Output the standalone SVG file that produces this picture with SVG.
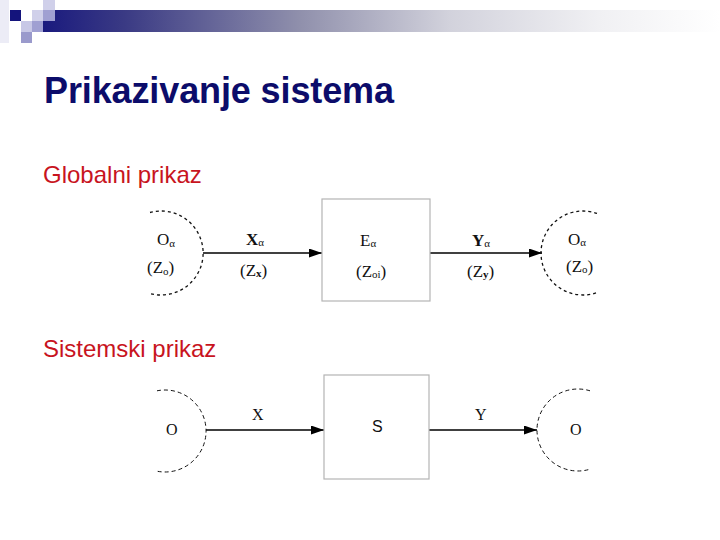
<svg xmlns="http://www.w3.org/2000/svg" width="720" height="540" viewBox="0 0 720 540">
<defs>
<linearGradient id="bar" x1="0" y1="0" x2="1" y2="0">
<stop offset="0" stop-color="#1a1a7e"/>
<stop offset="0.12" stop-color="#3a3a84"/>
<stop offset="0.38" stop-color="#9090ac"/>
<stop offset="0.6" stop-color="#d2d2dc"/>
<stop offset="0.82" stop-color="#f0f0f3"/>
<stop offset="1" stop-color="#ffffff"/>
</linearGradient>
<marker id="arr" markerUnits="userSpaceOnUse" markerWidth="13" markerHeight="9" refX="13" refY="4.5" orient="auto">
<path d="M0,0 L13,4.5 L0,9 z" fill="#000"/>
</marker>
<style>
.title{font-family:"Liberation Sans",Arial,sans-serif;font-weight:bold;font-size:36px;fill:#0c0c6a}
.sub{font-family:"Liberation Sans",Arial,sans-serif;font-size:24px;fill:#c8141e}
.lbl{font-family:"Liberation Serif","Times New Roman",serif;font-size:17px;fill:#111}
.lbl2{font-family:"Liberation Serif","Times New Roman",serif;font-size:16px;fill:#111}
.sans{font-family:"Liberation Sans",Arial,sans-serif;font-size:16px;fill:#111}
.box{fill:#fff;stroke:#b4b4b4;stroke-width:1.2}
.env1{fill:none;stroke:#111;stroke-width:1.3;stroke-dasharray:3 3}
.env2{fill:none;stroke:#111;stroke-width:1;stroke-dasharray:4 3}
.con{fill:none;stroke:#000;stroke-width:1.3;marker-end:url(#arr)}
</style>
</defs>
<rect width="720" height="540" fill="#fff"/>
<g id="header">
<rect x="0" y="0" width="9" height="43" fill="#ececf6"/>
<rect x="43" y="10" width="677" height="22" fill="url(#bar)"/>
<rect x="10" y="10" width="11" height="11" fill="#14147c"/>
<rect x="21" y="21" width="11" height="11" fill="#c8c8e6"/>
<rect x="21" y="32" width="11" height="11" fill="#9a9acc"/>
<rect x="32" y="10" width="11" height="11" fill="#d0d0ea"/>
<rect x="32" y="21" width="11" height="11" fill="#a0a0d2"/>
<rect x="43" y="0" width="12" height="10" fill="#d0d0ea"/>
<rect x="43" y="10" width="12" height="11" fill="#a0a0d2"/>
</g>
<text class="title" x="44" y="103" textLength="350">Prikazivanje sistema</text>
<text class="sub" x="43" y="183">Globalni prikaz</text>
<text class="sub" x="43" y="357">Sistemski prikaz</text>
<g id="connectors">
<line class="con" x1="203" y1="253" x2="322" y2="253"/>
<line class="con" x1="430" y1="253" x2="542" y2="253"/>
<line class="con" x1="206" y1="430" x2="324" y2="430"/>
<line class="con" x1="429" y1="430" x2="537" y2="430"/>
</g>
<g id="g-env-in">
<path class="env1" d="M150,212.5 A42,42 0 1 1 150,293.5"/>
<text class="lbl" x="157" y="245">O<tspan font-size="11" dy="2">α</tspan></text>
<text class="lbl" x="147" y="273">(Z<tspan font-size="11" dy="2">o</tspan><tspan dy="-2">)</tspan></text>
</g>
<g id="g-input">
<text class="lbl" x="246" y="245"><tspan font-weight="bold">X</tspan><tspan font-size="11" dy="1">α</tspan></text>
<text class="lbl" x="240" y="276">(Z<tspan font-size="11" font-weight="bold" dy="1">x</tspan><tspan dy="-1">)</tspan></text>
</g>
<g id="g-system">
<rect class="box" x="322" y="199" width="108" height="102"/>
<text class="lbl" x="360" y="246">E<tspan font-size="11" dy="1">α</tspan></text>
<text class="lbl" x="356" y="277">(Z<tspan font-size="11" dy="1">oi</tspan><tspan dy="-1">)</tspan></text>
</g>
<g id="g-output">
<text class="lbl" x="472" y="246"><tspan font-weight="bold">Y</tspan><tspan font-size="11" dy="1">α</tspan></text>
<text class="lbl" x="467" y="277">(Z<tspan font-size="11" font-weight="bold" dy="1">y</tspan><tspan dy="-1">)</tspan></text>
</g>
<g id="g-env-out">
<path class="env1" d="M597,213.4 A42,42 0 1 0 597,292.6"/>
<text class="lbl" x="568" y="245">O<tspan font-size="11" dy="1">α</tspan></text>
<text class="lbl" x="566" y="272">(Z<tspan font-size="11" dy="1">o</tspan><tspan dy="-1">)</tspan></text>
</g>
<g id="s-env-in">
<path class="env2" d="M157,390.8 A41,41 0 1 1 157,471.2"/>
<text class="lbl2" x="166" y="435">O</text>
</g>
<g id="s-input">
<text class="lbl2" x="252" y="420">X</text>
</g>
<g id="s-system">
<rect class="box" x="324" y="375" width="105" height="104"/>
<text class="sans" x="372" y="432">S</text>
</g>
<g id="s-output">
<text class="lbl2" x="475" y="420">Y</text>
</g>
<g id="s-env-out">
<path class="env2" d="M590,390.8 A41,41 0 1 0 590,469.2"/>
<text class="lbl2" x="570" y="435">O</text>
</g>
</svg>
